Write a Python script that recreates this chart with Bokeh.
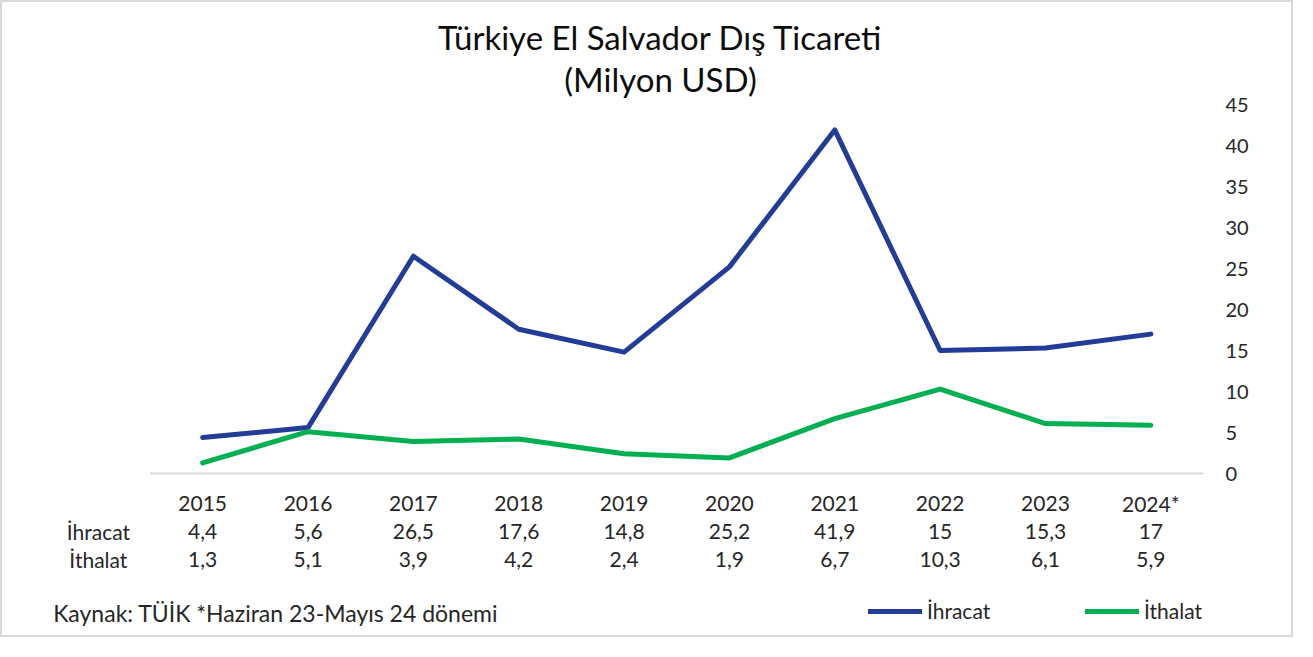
from bokeh.plotting import figure
from bokeh.models import (Range1d, FixedTicker, LinearAxis, ColumnDataSource, LabelSet,
                          Label, Legend, LegendItem)
from bokeh.core.properties import value
from bokeh.embed import file_html
from bokeh.resources import INLINE

# ---------------- data ----------------
years = ["2015", "2016", "2017", "2018", "2019", "2020", "2021", "2022", "2023", "2024*"]
ihracat = [4.4, 5.6, 26.5, 17.6, 14.8, 25.2, 41.9, 15, 15.3, 17]
ithalat = [1.3, 5.1, 3.9, 4.2, 2.4, 1.9, 6.7, 10.3, 6.1, 5.9]
y_ticks = [0, 5, 10, 15, 20, 25, 30, 35, 40, 45]
title_lines = ["Türkiye El Salvador Dış Ticareti", "(Milyon USD)"]
series_names = ["İhracat", "İthalat"]
source_note = "Kaynak: TÜİK *Haziran 23-Mayıs 24 dönemi"

FONT = "Lato"
BLUE = "#223C97"
GREEN = "#00B050"
TXT = "#262626"

def fmt(v):
    return f"{v:g}".replace(".", ",")

xs = list(range(len(years)))
n = len(years)

W, H = 1293, 637
p = figure(width=W, height=H, output_backend="svg", toolbar_location=None,
           x_range=Range1d(-1.9001, n - 0.4146), y_range=Range1d(-20.24, 57.44),
           min_border_left=0, min_border_right=83, min_border_top=0,
           min_border_bottom=0, x_axis_location=None, y_axis_location=None)
p.styles = {"border": "2px solid #d9d9d9"}
p.outline_line_color = None
p.xgrid.visible = False
p.ygrid.visible = False
p.background_fill_color = "white"
p.border_fill_color = "white"

# right y axis (ticks only at 0..45)
ya = LinearAxis(ticker=FixedTicker(ticks=y_ticks))
ya.axis_line_color = None
ya.major_tick_line_color = None
ya.minor_tick_line_color = None
ya.major_tick_out = 0
ya.major_tick_in = 0
ya.major_label_standoff = 13
ya.major_label_text_font = FONT
ya.major_label_text_font_size = "20px"
ya.major_label_text_color = TXT
p.add_layout(ya, "right")

# baseline (category axis line)
p.segment(x0=[-0.5], y0=[0], x1=[n - 0.5], y1=[0], line_color="#d9d9d9", line_width=2)

r1 = p.line(xs, ihracat, line_color=BLUE, line_width=5, line_cap="round", line_join="round")
r2 = p.line(xs, ithalat, line_color=GREEN, line_width=5, line_cap="round", line_join="round")

# data table below the chart
tbl = ColumnDataSource(dict(
    x=xs,
    y0=[-3.66] * n,
    y1=[-7.07] * n,
    y2=[-10.49] * n,
    t0=years,
    t1=[fmt(v) for v in ihracat],
    t2=[fmt(v) for v in ithalat],
))
for yc, tc in (("y0", "t0"), ("y1", "t1"), ("y2", "t2")):
    p.add_layout(LabelSet(x="x", y=yc, text=tc, source=tbl, text_align="center",
                          text_baseline="middle", text_font=value(FONT),
                          text_font_size=value("21px"), text_color=TXT))
for name, yv in zip(series_names, (-7.07, -10.49)):
    p.add_layout(Label(x=-0.99, y=yv, text=name, text_align="center", text_baseline="middle",
                       text_font=FONT, text_font_size="21px", text_color=TXT))

# title
for line, yv in zip(title_lines, (53.2, 48.1)):
    p.add_layout(Label(x=4.346, y=yv, text=line, text_align="center", text_baseline="middle",
                       text_font=FONT, text_font_size="33px", text_color="#0d0d0d"))

# source note
p.add_layout(Label(x=-1.419, y=-16.95, text=source_note, text_align="left",
                   text_baseline="middle", text_font=FONT, text_font_size="23px",
                   text_color=TXT))

# legends
for rend, name, vx in ((r1, series_names[0], 866), (r2, series_names[1], 1083)):
    lg = Legend(items=[LegendItem(label=name, renderers=[rend])], location=(vx, 16),
                orientation="horizontal", glyph_width=54, glyph_height=20, label_height=20,
                label_standoff=5, padding=0, margin=0, spacing=0,
                border_line_color=None, background_fill_alpha=0,
                label_text_font=FONT, label_text_font_size="21px", label_text_color=TXT)
    p.add_layout(lg, "center")

open("out.html", "w").write(file_html(p, INLINE))
